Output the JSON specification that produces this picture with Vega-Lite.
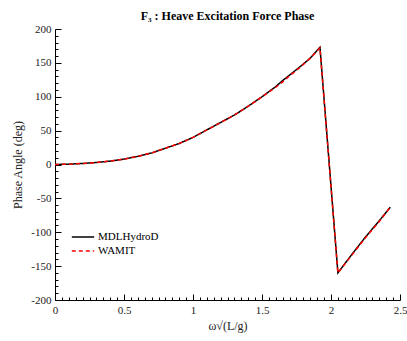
{
  "$schema": "https://vega.github.io/schema/vega-lite/v6.json",
  "width": 345,
  "height": 271,
  "autosize": {"type": "none"},
  "padding": {"left": 55, "top": 29, "right": 7, "bottom": 41},
  "background": "white",
  "title": {"text": "F₃ : Heave Excitation Force Phase", "font": "Liberation Serif", "fontSize": 12, "fontWeight": "bold", "color": "black", "offset": 0, "anchor": "middle"},
  "config": {
    "view": {"stroke": null},
    "axis": {"labelFont": "Liberation Serif", "titleFont": "Liberation Serif", "labelFontSize": 11, "titleFontSize": 12, "titleFontWeight": "normal", "labelColor": "#222", "titleColor": "#222", "domainColor": "black", "tickColor": "black", "grid": false},
    "legend": {"labelFont": "Liberation Serif", "labelFontSize": 11, "labelColor": "black"}
  },
  "data": {"values": [
    {"w": 0, "phase": 0, "series": "MDLHydroD"},
    {"w": 0.1, "phase": 0.5, "series": "MDLHydroD"},
    {"w": 0.2, "phase": 1.5, "series": "MDLHydroD"},
    {"w": 0.3, "phase": 3, "series": "MDLHydroD"},
    {"w": 0.4, "phase": 5, "series": "MDLHydroD"},
    {"w": 0.5, "phase": 8, "series": "MDLHydroD"},
    {"w": 0.6, "phase": 12, "series": "MDLHydroD"},
    {"w": 0.7, "phase": 17, "series": "MDLHydroD"},
    {"w": 0.8, "phase": 24, "series": "MDLHydroD"},
    {"w": 0.9, "phase": 31, "series": "MDLHydroD"},
    {"w": 1.0, "phase": 40, "series": "MDLHydroD"},
    {"w": 1.1, "phase": 51, "series": "MDLHydroD"},
    {"w": 1.2, "phase": 62, "series": "MDLHydroD"},
    {"w": 1.3, "phase": 73, "series": "MDLHydroD"},
    {"w": 1.4, "phase": 86, "series": "MDLHydroD"},
    {"w": 1.5, "phase": 100, "series": "MDLHydroD"},
    {"w": 1.6, "phase": 115, "series": "MDLHydroD"},
    {"w": 1.65, "phase": 124, "series": "MDLHydroD"},
    {"w": 1.7, "phase": 132, "series": "MDLHydroD"},
    {"w": 1.78, "phase": 145, "series": "MDLHydroD"},
    {"w": 1.85, "phase": 157, "series": "MDLHydroD"},
    {"w": 1.92, "phase": 173, "series": "MDLHydroD"},
    {"w": 2.05, "phase": -160, "series": "MDLHydroD"},
    {"w": 2.15, "phase": -133, "series": "MDLHydroD"},
    {"w": 2.25, "phase": -107, "series": "MDLHydroD"},
    {"w": 2.35, "phase": -83, "series": "MDLHydroD"},
    {"w": 2.43, "phase": -63, "series": "MDLHydroD"},
    {"w": 0, "phase": 0, "series": "WAMIT"},
    {"w": 0.1, "phase": 0.5, "series": "WAMIT"},
    {"w": 0.2, "phase": 1.5, "series": "WAMIT"},
    {"w": 0.3, "phase": 3, "series": "WAMIT"},
    {"w": 0.4, "phase": 5, "series": "WAMIT"},
    {"w": 0.5, "phase": 8, "series": "WAMIT"},
    {"w": 0.6, "phase": 12, "series": "WAMIT"},
    {"w": 0.7, "phase": 17, "series": "WAMIT"},
    {"w": 0.8, "phase": 24, "series": "WAMIT"},
    {"w": 0.9, "phase": 31, "series": "WAMIT"},
    {"w": 1.0, "phase": 40, "series": "WAMIT"},
    {"w": 1.1, "phase": 51, "series": "WAMIT"},
    {"w": 1.2, "phase": 62, "series": "WAMIT"},
    {"w": 1.3, "phase": 73, "series": "WAMIT"},
    {"w": 1.4, "phase": 86, "series": "WAMIT"},
    {"w": 1.5, "phase": 100, "series": "WAMIT"},
    {"w": 1.6, "phase": 114, "series": "WAMIT"},
    {"w": 1.65, "phase": 122, "series": "WAMIT"},
    {"w": 1.7, "phase": 131, "series": "WAMIT"},
    {"w": 1.78, "phase": 144, "series": "WAMIT"},
    {"w": 1.85, "phase": 157, "series": "WAMIT"},
    {"w": 1.92, "phase": 172, "series": "WAMIT"},
    {"w": 2.05, "phase": -160, "series": "WAMIT"},
    {"w": 2.15, "phase": -134, "series": "WAMIT"},
    {"w": 2.25, "phase": -108, "series": "WAMIT"},
    {"w": 2.35, "phase": -84, "series": "WAMIT"},
    {"w": 2.43, "phase": -63, "series": "WAMIT"}
  ]},
  "layer": [
    {
      "transform": [{"filter": "datum.series === 'MDLHydroD'"}],
      "mark": {"type": "line", "strokeWidth": 1.5},
      "encoding": {
        "x": {"field": "w", "type": "quantitative", "scale": {"domain": [0, 2.5], "nice": false, "zero": false},
              "axis": {"orient": "bottom", "values": [0, 0.5, 1, 1.5, 2, 2.5], "labelExpr": "toString(datum.value)", "labelFont": "Liberation Serif", "labelFontSize": 11, "tickSize": -6, "labelPadding": 10, "title": "ω√(L/g)", "titlePadding": 5, "labelFlush": false}},
        "y": {"field": "phase", "type": "quantitative", "scale": {"domain": [-200, 200], "nice": false, "zero": false},
              "axis": {"orient": "left", "values": [-200, -150, -100, -50, 0, 50, 100, 150, 200], "labelExpr": "toString(datum.value)", "labelFont": "Liberation Serif", "labelFontSize": 11, "tickSize": -6, "labelPadding": 10, "title": "Phase Angle (deg)", "titlePadding": 6}},
        "color": {"field": "series", "type": "nominal", "scale": {"domain": ["MDLHydroD", "WAMIT"], "range": ["black", "red"]},
                  "legend": {"orient": "none", "legendX": 16, "legendY": 202, "padding": 0, "title": null, "symbolType": "stroke", "symbolSize": 500, "symbolStrokeWidth": 1.5, "clipHeight": 12, "rowPadding": 2, "labelOffset": 3, "labelFont": "Liberation Serif", "labelFontSize": 11, "labelColor": "black"}},
        "strokeDash": {"field": "series", "type": "nominal", "scale": {"domain": ["MDLHydroD", "WAMIT"], "range": [[1, 0], [4, 3]]}, "legend": null}
      }
    },
    {
      "transform": [{"filter": "datum.series === 'WAMIT'"}],
      "mark": {"type": "line", "strokeWidth": 1.5},
      "encoding": {
        "x": {"field": "w", "type": "quantitative",
              "axis": {"orient": "bottom", "values": [0.05,0.1,0.15,0.2,0.25,0.3,0.35,0.4,0.45,0.55,0.6,0.65,0.7,0.75,0.8,0.85,0.9,0.95,1.05,1.1,1.15,1.2,1.25,1.3,1.35,1.4,1.45,1.55,1.6,1.65,1.7,1.75,1.8,1.85,1.9,1.95,2.05,2.1,2.15,2.2,2.25,2.3,2.35,2.4,2.45], "tickSize": -3, "labels": false, "title": null, "domain": false}},
        "y": {"field": "phase", "type": "quantitative",
              "axis": {"orient": "left", "values": [-190,-180,-170,-160,-140,-130,-120,-110,-90,-80,-70,-60,-40,-30,-20,-10,10,20,30,40,60,70,80,90,110,120,130,140,160,170,180,190], "tickSize": -3, "labels": false, "title": null, "domain": false}},
        "color": {"field": "series", "type": "nominal"},
        "strokeDash": {"field": "series", "type": "nominal"}
      }
    }
  ],
  "resolve": {"axis": {"x": "independent", "y": "independent"}}
}
